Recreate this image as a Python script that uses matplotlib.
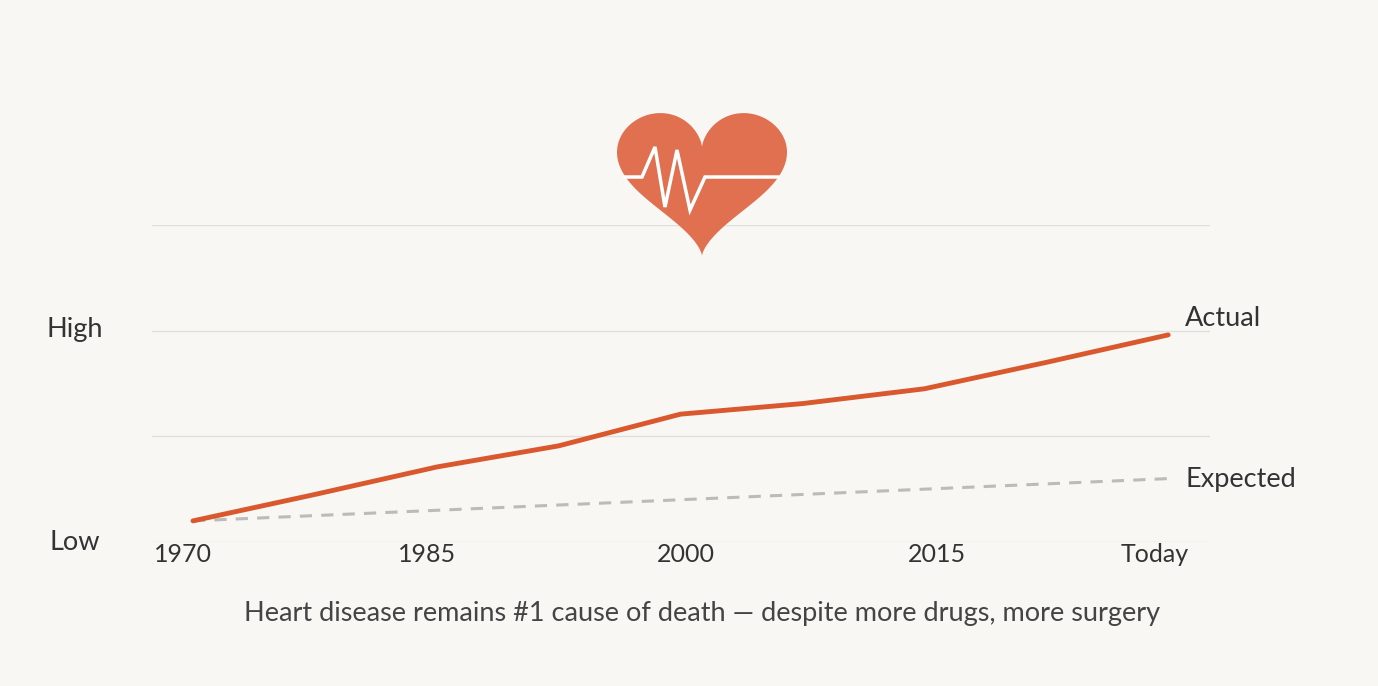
import numpy as np
import matplotlib.pyplot as plt

# data (x = segment index, y: 0 = Low, 2 = High)
x_pts = [0, 1, 2, 3, 4, 5, 6, 7, 8]
actual = [0.20, 0.45, 0.71, 0.91, 1.21, 1.31, 1.45, 1.70, 1.96]
expected_x = [0, 8]
expected = [0.20, 0.60]
tick_pos = [-0.08, 1.92, 4.04, 6.10, 7.89]
tick_labels = ["1970", "1985", "2000", "2015", "Today"]

W, H = 1378, 686
bg = "#f9f7f4"
plt.rcParams["font.family"] = ["Lato", "DejaVu Sans"]
fig = plt.figure(figsize=(W / 100, H / 100), dpi=100, facecolor=bg)


def px_ax(l, t, r, b):
    return fig.add_axes([l / W, 1 - b / H, (r - l) / W, (b - t) / H])


ax = px_ax(152, 225, 1210, 542)
ax.set_facecolor("none")
ax.set_xlim((152 - 193) / 121.9, (1210 - 193) / 121.9)
ax.set_ylim(0, 3)
for s in ax.spines.values():
    s.set_visible(False)
ax.set_yticks([0, 1, 2, 3])
ax.set_yticklabels([])
ax.tick_params(length=0)
ax.grid(axis="y", color="#e2dfda", lw=1)
ax.set_xticks([])
ax.plot(expected_x, expected, color="#bdbbb8", lw=2.2, ls=(0, (4, 3)))
ax.plot(x_pts, actual, color="#d9582e", lw=3.5, solid_capstyle="round")
for p, lab in zip(tick_pos, tick_labels):
    ax.text(p, -0.01, lab, ha="center", va="top", fontsize=18, color="#333333")

ov = fig.add_axes([0, 0, 1, 1])
ov.set_xlim(0, W)
ov.set_ylim(H, 0)
ov.axis("off")
ov.patch.set_alpha(0)

# heart
t = np.linspace(0, 2 * np.pi, 400)
hx = 16 * np.sin(t) ** 3
hy = 13 * np.cos(t) - 5 * np.cos(2 * t) - 2 * np.cos(3 * t) - np.cos(4 * t)
ov.fill(702 + hx * 85 / 16, 172 - hy * 84 / 17, color="#e07050", lw=0)
ecg_x = [625, 642, 655, 665, 677, 690, 705, 778]
ecg_y = [177, 177, 147, 207, 150, 210, 177, 177]
ov.plot(ecg_x, ecg_y, color="white", lw=2.5, solid_joinstyle="miter")

txt = dict(fontsize=19.5, color="#333333", va="center")
ov.text(75, 330, "High", ha="center", **txt)
ov.text(75, 542, "Low", ha="center", **txt)
ov.text(1185, 318, "Actual", ha="left", **txt)
ov.text(1185, 479, "Expected", ha="left", **txt)
ov.text(702, 614, "Heart disease remains #1 cause of death \u2014 despite more drugs, more surgery",
        ha="center", va="center", fontsize=19.5, color="#444444")

fig.savefig("out.png", dpi=100, facecolor=bg)
